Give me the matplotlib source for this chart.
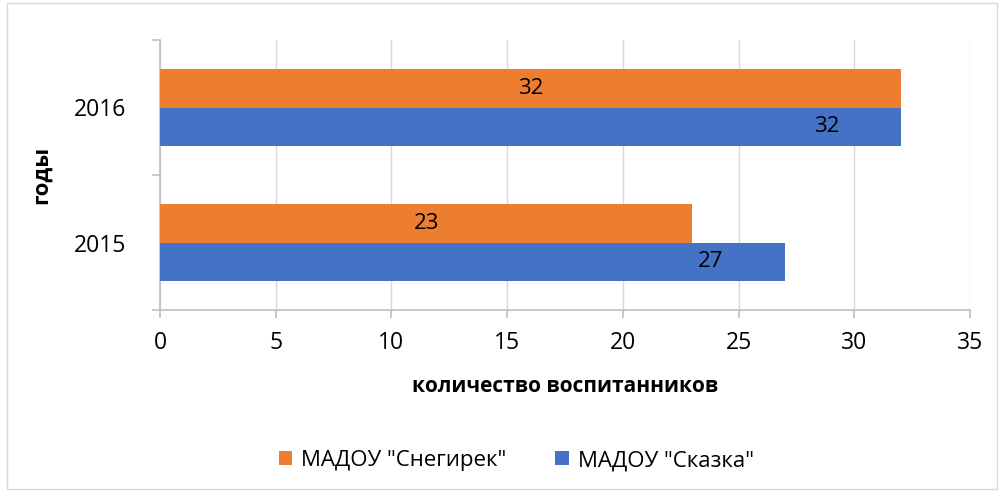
import matplotlib
matplotlib.use("Agg")
import matplotlib.pyplot as plt
import numpy as np

years = ["2015", "2016"]
snegirek = [23, 32]
skazka = [27, 32]
series_names = ['МАДОУ "Снегирек"', 'МАДОУ "Сказка"']
xticks = [0, 5, 10, 15, 20, 25, 30, 35]

plt.rcParams['font.family'] = ['Open Sans', 'DejaVu Sans']

ORANGE = "#ED7D31"
BLUE = "#4472C4"
GRID = "#D9D9D9"
AXIS = "#BFBFBF"

fig = plt.figure(figsize=(10.03, 4.91), dpi=100)
ax = fig.add_axes([160 / 1003, 1 - 310 / 491, 810 / 1003, 270 / 491])

y = np.arange(len(years))
h = 0.285
b1 = ax.barh(y + h / 2, snegirek, height=h, color=ORANGE, label=series_names[0], zorder=3)
b2 = ax.barh(y - h / 2, skazka, height=h, color=BLUE, label=series_names[1], zorder=3)

# orange labels centred, blue labels sit near the bar end
for bar, v in zip(b1, snegirek):
    ax.text(bar.get_width() / 2, bar.get_y() + bar.get_height() / 2, str(v),
            ha="center", va="center", fontsize=16, color="black", zorder=4)
for bar, v in zip(b2, skazka):
    ax.text(bar.get_width() - 3.2, bar.get_y() + bar.get_height() / 2, str(v),
            ha="center", va="center", fontsize=16, color="black", zorder=4)

ax.set_xlim(0, 35)
ax.set_ylim(-0.5, 1.5)
ax.set_xticks(xticks)
ax.set_yticks(y)
ax.set_yticklabels(years)
ax.set_yticks([-0.5, 0.5, 1.5], minor=True)
ax.tick_params(axis="y", which="major", length=0, pad=24, labelsize=16.5)
ax.tick_params(axis="y", which="minor", length=6, color=AXIS, width=1.2)
ax.tick_params(axis="x", which="major", length=6, color=AXIS, width=1.2, pad=9, labelsize=16.5)

ax.grid(axis="x", color=GRID, linewidth=1, zorder=0)
for s in ("top", "right"):
    ax.spines[s].set_visible(False)
ax.spines["left"].set_color(AXIS)
ax.spines["bottom"].set_color(AXIS)
ax.spines["left"].set_linewidth(1.2)
ax.spines["bottom"].set_linewidth(1.2)

ax.set_xlabel("количество воспитанников", fontsize=15, fontweight="bold", labelpad=15)
ax.set_ylabel("годы", fontsize=16, fontweight="bold", labelpad=16)

ax.legend(loc="upper center", bbox_to_anchor=(0.44, -0.445), ncol=2, frameon=False,
          fontsize=16, handlelength=0.6, handleheight=0.6, columnspacing=2.2, handletextpad=0.4)

fig.patches.append(plt.Rectangle((7 / 1003, 2 / 491), 990 / 1003, 486 / 491, transform=fig.transFigure,
                                 fill=False, edgecolor="#D9D9D9", linewidth=1))

fig.savefig("out.png", dpi=100)
